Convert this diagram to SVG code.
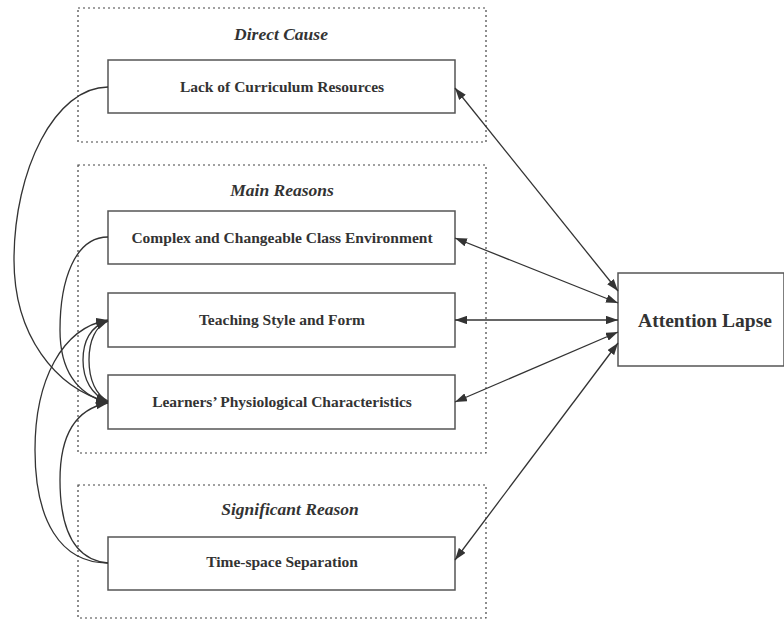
<svg xmlns="http://www.w3.org/2000/svg" width="784" height="620" viewBox="0 0 784 620">
<style>
.grp{fill:none;stroke:#444;stroke-width:1.2;stroke-dasharray:2,3}
.node{fill:#fff;stroke:#555;stroke-width:1.5}
.lbl{font-family:"Liberation Serif","Times New Roman",serif;font-weight:bold;font-size:15.5px;fill:#333;text-anchor:middle}
.big{font-size:19.5px}
.ttl{font-family:"Liberation Serif","Times New Roman",serif;font-weight:bold;font-style:italic;font-size:17.5px;fill:#333;text-anchor:middle}
.c{fill:none;stroke:#333;stroke-width:1.3}
</style>
<defs>
<marker id="ah" viewBox="0 0 10 7" refX="10" refY="3.5" markerWidth="12" markerHeight="8.4" markerUnits="userSpaceOnUse" orient="auto-start-reverse">
<path d="M0,0 L10,3.5 L0,7 z" fill="#333"/>
</marker>
</defs>
<rect width="784" height="620" fill="#fff"/>
<g id="groups">
<rect class="grp" x="78" y="8" width="408" height="134"/>
<text class="ttl" x="281" y="40">Direct Cause</text>
<rect class="grp" x="78" y="165" width="408" height="288"/>
<text class="ttl" x="282" y="196">Main Reasons</text>
<rect class="grp" x="78" y="485" width="408" height="133"/>
<text class="ttl" x="290" y="515">Significant Reason</text>
</g>
<g id="n-lack"><rect class="node" x="108" y="60" width="347" height="53"/><text class="lbl" x="282" y="92">Lack of Curriculum Resources</text></g>
<g id="n-complex"><rect class="node" x="108" y="211" width="347" height="53"/><text class="lbl" x="282" y="243">Complex and Changeable Class Environment</text></g>
<g id="n-teaching"><rect class="node" x="108" y="293" width="347" height="54"/><text class="lbl" x="282" y="325">Teaching Style and Form</text></g>
<g id="n-learners"><rect class="node" x="108" y="375" width="347" height="54"/><text class="lbl" x="282" y="407">Learners’ Physiological Characteristics</text></g>
<g id="n-time"><rect class="node" x="108" y="537" width="347" height="53"/><text class="lbl" x="282" y="567">Time-space Separation</text></g>
<g id="n-attention"><rect class="node" x="618" y="273" width="166" height="93"/><text class="lbl big" x="705" y="327">Attention Lapse</text></g>
<g id="connectors">
<line class="c" x1="455" y1="88" x2="618" y2="291" marker-start="url(#ah)" marker-end="url(#ah)"/>
<line class="c" x1="455" y1="238" x2="618" y2="303" marker-start="url(#ah)" marker-end="url(#ah)"/>
<line class="c" x1="455" y1="320" x2="618" y2="320" marker-start="url(#ah)" marker-end="url(#ah)"/>
<line class="c" x1="455" y1="402" x2="618" y2="332" marker-start="url(#ah)" marker-end="url(#ah)"/>
<line class="c" x1="455" y1="560" x2="618" y2="343" marker-start="url(#ah)" marker-end="url(#ah)"/>
<path class="c" d="M108,87 C55,87 14,170 14,260 C14,335 55,388 108,402" marker-end="url(#ah)"/>
<path class="c" d="M108,237 C75,237 60,280 60,330 C60,375 80,395 108,403" marker-end="url(#ah)"/>
<path class="c" d="M108,321 C90,326 83,342 83,360 C83,380 92,395 108,402" marker-end="url(#ah)"/>
<path class="c" d="M108,401 C96,395 89,380 89,360 C89,340 96,326 108,321" marker-end="url(#ah)"/>
<path class="c" d="M108,563 C60,563 35,520 35,450 C35,380 62,328 108,320" marker-end="url(#ah)"/>
<path class="c" d="M108,563 C75,560 60,530 60,480 C60,430 80,408 108,403" marker-end="url(#ah)"/>
</g>
</svg>
